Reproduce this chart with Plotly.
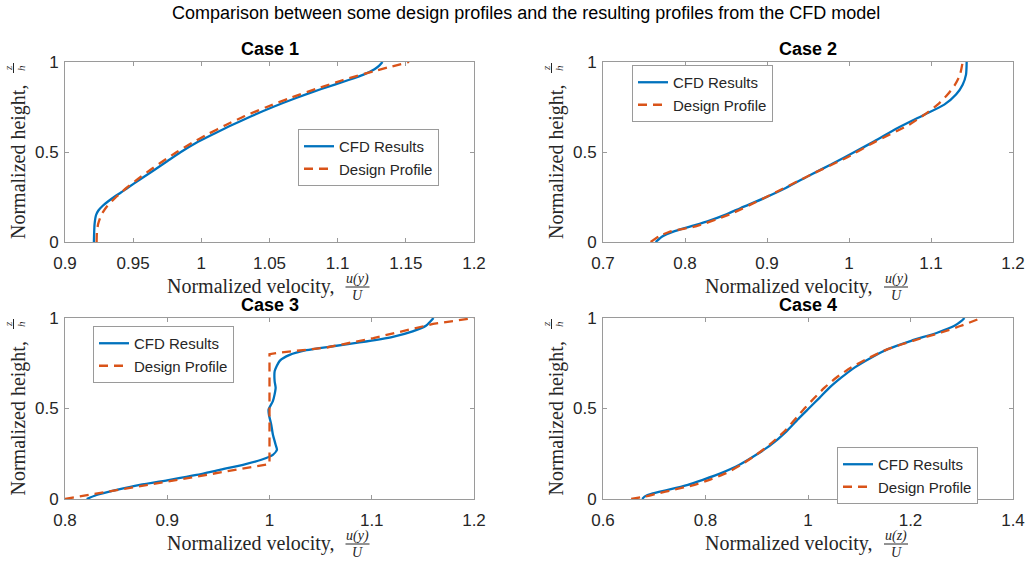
import plotly.graph_objects as go

W, H = 1030, 562

# ---------------- data: normalized height z/h vs normalized velocity ----------------
case1_cfd_z = [0, 0.10, 0.15, 0.175, 0.20, 0.225, 0.25, 0.275, 0.30, 0.35, 0.40,
               0.45, 0.50, 0.55, 0.60, 0.65, 0.70, 0.75, 0.80, 0.85, 0.90,
               0.93, 0.96, 0.98, 1.0]
case1_cfd_u = [0.9212, 0.9217, 0.9228, 0.9245, 0.9275, 0.9315, 0.9360, 0.9410, 0.9458, 0.9555, 0.9655,
               0.9752, 0.9850, 0.9960, 1.0090, 1.0225, 1.0370, 1.0525, 1.0695, 1.0880, 1.1080,
               1.1190, 1.1270, 1.1305, 1.1329]
case1_design_z = [0, 0.05, 0.10, 0.15, 0.20, 0.25, 0.30, 0.35, 0.40, 0.45,
                  0.50, 0.55, 0.60, 0.65, 0.70, 0.75, 0.80, 0.85, 0.90, 0.95, 1.0]
case1_design_u = [0.9232, 0.9234, 0.9243, 0.9266, 0.9310, 0.9375, 0.9450, 0.9535, 0.9625, 0.9720,
                  0.9820, 0.9930, 1.0050, 1.0180, 1.0320, 1.0480, 1.0650, 1.0840, 1.1040, 1.1270,
                  1.1524]

case2_cfd_z = [0, 0.031, 0.059, 0.087, 0.115, 0.152, 0.189, 0.244, 0.300, 0.374,
               0.430, 0.504, 0.559, 0.633, 0.707, 0.763, 0.819, 0.874, 0.930, 1.0]
case2_cfd_u = [0.7642, 0.7723, 0.7866, 0.8069, 0.8273, 0.8497, 0.8680, 0.8965, 0.9229, 0.9534,
               0.9779, 1.0084, 1.0308, 1.0593, 1.0918, 1.1162, 1.1305, 1.1386, 1.1427, 1.1435]
case2_design_z = [0, 0.031, 0.059, 0.087, 0.152, 0.244, 0.374, 0.467, 0.559, 0.652,
                  0.707, 0.763, 0.819, 0.874, 0.930, 1.0]
case2_design_u = [0.7581, 0.7683, 0.7825, 0.8130, 0.8537, 0.8965, 0.9534, 0.9962, 1.0328, 1.0735,
                  1.0918, 1.1080, 1.1202, 1.1293, 1.1354, 1.1386]

case3_cfd_z = [0, 0.022, 0.050, 0.078, 0.106, 0.133, 0.161, 0.189, 0.217, 0.244,
               0.272, 0.300, 0.356, 0.411, 0.467, 0.494, 0.541, 0.578, 0.615, 0.652,
               0.707, 0.763, 0.796, 0.822, 0.844, 0.865, 0.896, 0.926, 0.957, 1.0]
case3_cfd_u = [0.8212, 0.8309, 0.8505, 0.8732, 0.9025, 0.9286, 0.9513, 0.9741, 0.9920, 1.0033,
               1.0073, 1.0060, 1.0033, 1.0017, 0.9994, 0.9991, 1.0033, 1.0050, 1.0060, 1.0050,
               1.0051, 1.0100, 1.0197, 1.0360, 1.0620, 1.0880, 1.1206, 1.1400, 1.1530, 1.1604]
case3_design_z = [0, 0.193, 0.800, 0.809, 0.837, 0.889, 0.967, 1.0]
case3_design_u = [0.8000, 1.0000, 1.0000, 1.0105, 1.0560, 1.1016, 1.1600, 1.2000]

case4_cfd_z = [0, 0.013, 0.031, 0.050, 0.078, 0.106, 0.143, 0.189, 0.244, 0.300,
               0.374, 0.448, 0.504, 0.559, 0.615, 0.670, 0.726, 0.781, 0.828, 0.874,
               0.920, 0.957, 0.985, 1.0]
case4_cfd_u = [0.6765, 0.6810, 0.6973, 0.7266, 0.7656, 0.7948, 0.8306, 0.8663, 0.8989, 0.9281,
               0.9580, 0.9830, 1.0029, 1.0224, 1.0419, 1.0647, 1.0907, 1.1232, 1.1558, 1.2013,
               1.2533, 1.2858, 1.3001, 1.3053]
case4_design_z = [0, 0.013, 0.031, 0.050, 0.078, 0.106, 0.143, 0.189, 0.244, 0.300,
                  0.374, 0.448, 0.504, 0.559, 0.615, 0.670, 0.726, 0.781, 0.828, 0.874,
                  0.920, 0.957, 1.0]
case4_design_u = [0.6550, 0.6810, 0.7070, 0.7364, 0.7786, 0.8078, 0.8403, 0.8696, 0.8989, 0.9249,
                  0.9541, 0.9769, 0.9944, 1.0127, 1.0322, 1.0550, 1.0842, 1.1200, 1.1558, 1.2046,
                  1.2598, 1.2988, 1.3378]

# ---------------- axes ----------------
x_ranges = [[0.9, 1.2], [0.7, 1.2], [0.8, 1.2], [0.6, 1.4]]
x_tick_vals = [[0.9, 0.95, 1.0, 1.05, 1.1, 1.15, 1.2],
               [0.7, 0.8, 0.9, 1.0, 1.1, 1.2],
               [0.8, 0.9, 1.0, 1.1, 1.2],
               [0.6, 0.8, 1.0, 1.2, 1.4]]
x_tick_text = [["0.9", "0.95", "1", "1.05", "1.1", "1.15", "1.2"],
               ["0.7", "0.8", "0.9", "1", "1.1", "1.2"],
               ["0.8", "0.9", "1", "1.1", "1.2"],
               ["0.6", "0.8", "1", "1.2", "1.4"]]
y_tick_vals = [0, 0.5, 1]
y_tick_text = ["0", "0.5", "1"]

case_titles = ["Case 1", "Case 2", "Case 3", "Case 4"]
velocity_numerators = ["u(y)", "u(y)", "u(y)", "u(z)"]
series_names = ["CFD Results", "Design Profile"]
main_title = "Comparison between some design profiles and the resulting profiles from the CFD model"

cfd_series = [(case1_cfd_u, case1_cfd_z), (case2_cfd_u, case2_cfd_z),
              (case3_cfd_u, case3_cfd_z), (case4_cfd_u, case4_cfd_z)]
design_series = [(case1_design_u, case1_design_z), (case2_design_u, case2_design_z),
                 (case3_design_u, case3_design_z), (case4_design_u, case4_design_z)]

# ---------------- layout geometry (pixels) ----------------
panels = [(65, 474, 62, 242), (603, 1013, 62, 242), (65, 474, 318, 499), (603, 1013, 318, 499)]
legend_corners = [(298, 129), (632, 65), (93, 326), (837, 447)]

BLUE = "#0072BD"
ORANGE = "#D95319"
AXIS_GREY = "#9a9a9a"
TEXT = "#262626"
SANS = "Liberation Sans, Arial, Helvetica, sans-serif"
SERIF = "Liberation Serif, Times New Roman, serif"


def px(x):
    return x / W


def py(y):
    return 1 - y / H


fig = go.Figure()
layout = dict(width=W, height=H, autosize=False,
              margin=dict(l=0, r=0, t=0, b=0, pad=0, autoexpand=False),
              paper_bgcolor="white", plot_bgcolor="white", showlegend=True)
annotations = []
shapes = []

for i in range(4):
    sfx = "" if i == 0 else str(i + 1)
    xid, yid = "x" + sfx, "y" + sfx
    leg = "legend" + sfx
    l, r, t, b = panels[i]

    u, z = cfd_series[i]
    fig.add_trace(go.Scatter(x=u, y=z, mode="lines", name=series_names[0],
                             line=dict(color=BLUE, width=2.3, shape="spline", smoothing=0.6),
                             xaxis=xid, yaxis=yid, legend=leg))
    u, z = design_series[i]
    fig.add_trace(go.Scatter(x=u, y=z, mode="lines", name=series_names[1],
                             line=dict(color=ORANGE, width=2.3, dash="9px,6px",
                                       shape="linear" if i == 2 else "spline", smoothing=0.6),
                             xaxis=xid, yaxis=yid, legend=leg))

    common = dict(showline=True, linecolor=AXIS_GREY, linewidth=1, mirror="allticks",
                  ticks="inside", ticklen=4, tickcolor=AXIS_GREY, tickwidth=1,
                  showgrid=False, zeroline=False, automargin=False,
                  tickfont=dict(family=SANS, size=17, color=TEXT))
    layout["xaxis" + sfx] = dict(common, domain=[px(l), px(r)], range=x_ranges[i],
                                 tickvals=x_tick_vals[i], ticktext=x_tick_text[i], anchor=yid,
                                 ticklabelstandoff=6)
    layout["yaxis" + sfx] = dict(common, domain=[py(b), py(t)], range=[0, 1],
                                 tickvals=y_tick_vals, ticktext=y_tick_text, anchor=xid,
                                 ticklabelstandoff=2)

    lx, ly = legend_corners[i]
    layout[leg] = dict(x=px(lx), y=py(ly), xanchor="left", yanchor="top",
                       bgcolor="white", bordercolor=AXIS_GREY, borderwidth=1,
                       font=dict(family=SANS, size=15, color=TEXT),
                       tracegroupgap=0, itemwidth=30)

    cx = (l + r) / 2
    # panel title
    annotations.append(dict(text="<b>" + case_titles[i] + "</b>", x=px(cx), y=py(t - 13),
                            xref="paper", yref="paper", showarrow=False,
                            xanchor="center", yanchor="middle",
                            font=dict(family=SANS, size=18, color="black")))
    # x label with stacked fraction
    annotations.append(dict(text="Normalized velocity,", x=px(cx + 67), y=py(b + 44),
                            xref="paper", yref="paper", showarrow=False,
                            xanchor="right", yanchor="middle",
                            font=dict(family=SERIF, size=20, color=TEXT)))
    annotations.append(dict(text="<i>" + velocity_numerators[i] + "</i>", x=px(cx + 88), y=py(b + 37),
                            xref="paper", yref="paper", showarrow=False,
                            xanchor="center", yanchor="middle",
                            font=dict(family=SERIF, size=14, color=TEXT)))
    annotations.append(dict(text="<i>U</i>", x=px(cx + 88), y=py(b + 53),
                            xref="paper", yref="paper", showarrow=False,
                            xanchor="center", yanchor="middle",
                            font=dict(family=SERIF, size=14, color=TEXT)))
    shapes.append(dict(type="line", xref="paper", yref="paper",
                       x0=px(cx + 76), x1=px(cx + 100), y0=py(b + 45), y1=py(b + 45),
                       line=dict(color=TEXT, width=1)))
    # y label with stacked fraction (rotated)
    annotations.append(dict(text="Normalized height,", x=px(l - 47), y=py((t + b) / 2 + 10),
                            xref="paper", yref="paper", showarrow=False, textangle=-90,
                            xanchor="center", yanchor="middle",
                            font=dict(family=SERIF, size=20, color=TEXT)))
    annotations.append(dict(text="<i>z</i>", x=px(l - 57), y=py(t + 6),
                            xref="paper", yref="paper", showarrow=False, textangle=-90,
                            xanchor="center", yanchor="middle",
                            font=dict(family=SERIF, size=11, color=TEXT)))
    annotations.append(dict(text="<i>h</i>", x=px(l - 44), y=py(t + 6),
                            xref="paper", yref="paper", showarrow=False, textangle=-90,
                            xanchor="center", yanchor="middle",
                            font=dict(family=SERIF, size=11, color=TEXT)))
    shapes.append(dict(type="line", xref="paper", yref="paper",
                       x0=px(l - 51.5), x1=px(l - 51.5), y0=py(t + 1), y1=py(t + 11),
                       line=dict(color=TEXT, width=1)))

annotations.append(dict(text=main_title, x=px(526), y=py(13), xref="paper", yref="paper",
                        showarrow=False, xanchor="center", yanchor="middle",
                        font=dict(family=SANS, size=18, color="black")))

layout["annotations"] = annotations
layout["shapes"] = shapes
fig.update_layout(**layout)
fig.write_html("out.html")
